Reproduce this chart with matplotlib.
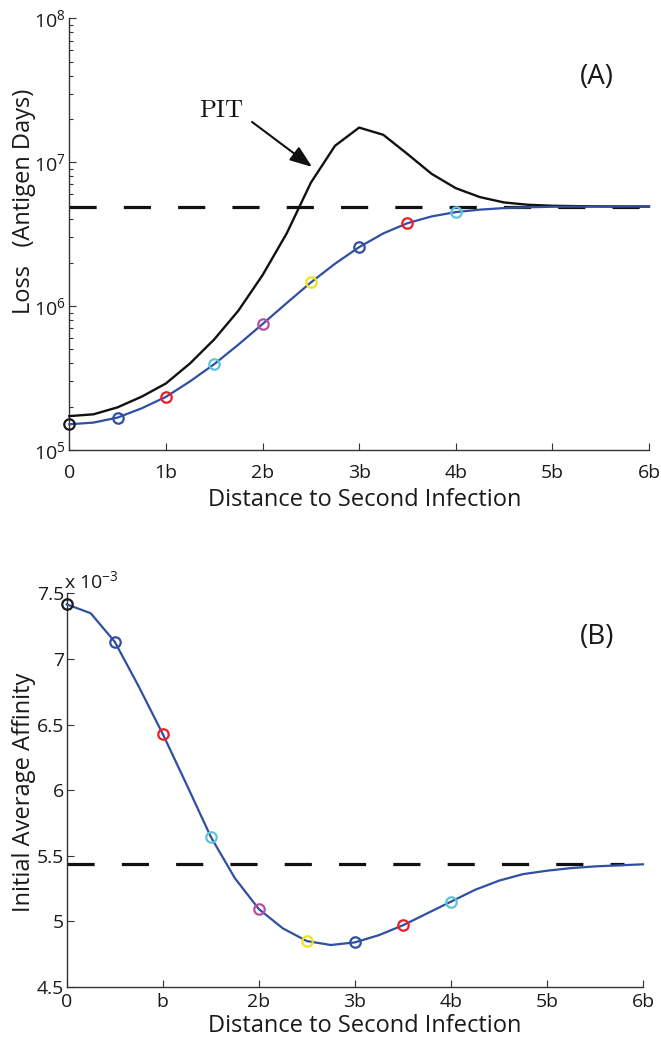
import numpy as np
import matplotlib
matplotlib.use("Agg")
import matplotlib.pyplot as plt
from matplotlib.ticker import LogLocator, NullFormatter

plt.rcParams['font.family'] = ['Open Sans', 'DejaVu Sans']
plt.rcParams['mathtext.fontset'] = 'custom'
plt.rcParams['mathtext.rm'] = 'Open Sans'
plt.rcParams['mathtext.it'] = 'Open Sans'

# ---------------- data ----------------
x_grid = [0, 0.25, 0.5, 0.75, 1, 1.25, 1.5, 1.75, 2, 2.25, 2.5, 2.75, 3,
          3.25, 3.5, 3.75, 4, 4.25, 4.5, 4.75, 5, 5.25, 5.5, 5.75, 6]

loss_blue = [1.51e5, 1.55e5, 1.68e5, 1.95e5, 2.34e5, 3.0e5, 3.95e5, 5.4e5,
             7.5e5, 1.05e6, 1.46e6, 1.97e6, 2.57e6, 3.2e6, 3.77e6, 4.2e6,
             4.5e6, 4.68e6, 4.8e6, 4.86e6, 4.9e6, 4.91e6, 4.92e6, 4.92e6, 4.92e6]

loss_pit = [1.72e5, 1.77e5, 1.98e5, 2.35e5, 2.9e5, 4.0e5, 5.87e5, 9.3e5,
            1.64e6, 3.2e6, 7.2e6, 1.3e7, 1.74e7, 1.55e7, 1.14e7, 8.3e6,
            6.6e6, 5.72e6, 5.25e6, 5.06e6, 4.98e6, 4.95e6, 4.93e6, 4.92e6, 4.92e6]

loss_ref = 4.92e6

affinity = [7.416, 7.348, 7.131, 6.79, 6.428, 6.04, 5.645, 5.33, 5.094,
            4.947, 4.85, 4.82, 4.84, 4.895, 4.97, 5.06, 5.15, 5.24, 5.31,
            5.36, 5.386, 5.406, 5.419, 5.427, 5.435]
affinity_ref = 5.437

marker_x = [0, 0.5, 1, 1.5, 2, 2.5, 3, 3.5, 4]
marker_colors = ['#1a1a1a', '#2f4fa2', '#ee1c24', '#5bc4d8', '#b84ea6',
                 '#ece419', '#2f4fa2', '#ee1c24', '#5bc4d8']

x_ticks = [0, 1, 2, 3, 4, 5, 6]
x_labels_top = ['0', '1b', '2b', '3b', '4b', '5b', '6b']
x_labels_bot = ['0', 'b', '2b', '3b', '4b', '5b', '6b']
aff_ticks = [4.5, 5, 5.5, 6, 6.5, 7, 7.5]
aff_labels = ['4.5', '5', '5.5', '6', '6.5', '7', '7.5']

# ---------------- figure ----------------
W, H = 661, 1044
fig = plt.figure(figsize=(W / 100, H / 100), dpi=100)

blue = '#2f4fa2'
spine_col = '#333333'
txt_col = '#1a1a1a'
LABEL_FS = 17
TICK_FS = 14

def px_axes(l, r, t, b):
    return fig.add_axes([l / W, 1 - b / H, (r - l) / W, (b - t) / H])

def style(ax):
    for s in ['top', 'right']:
        ax.spines[s].set_visible(False)
    for s in ['left', 'bottom']:
        ax.spines[s].set_color(spine_col)
        ax.spines[s].set_linewidth(1.0)
    ax.tick_params(which='both', direction='in', colors=spine_col,
                   labelcolor=txt_col, labelsize=TICK_FS, width=0.8)
    ax.tick_params(which='major', length=5)
    ax.tick_params(which='minor', length=3)
    ax.set_facecolor('none')

# ---- panel A ----
axA = px_axes(69.3, 649, 18.3, 450)
style(axA)
axA.set_yscale('log')
axA.set_xlim(0, 6)
axA.set_ylim(1e5, 1e8)
axA.yaxis.set_major_locator(LogLocator(base=10, numticks=10))
axA.yaxis.set_minor_locator(LogLocator(base=10, subs=np.arange(2, 10), numticks=10))
axA.yaxis.set_minor_formatter(NullFormatter())
axA.set_xticks(x_ticks)
axA.set_xticklabels(x_labels_top)
axA.tick_params(axis='x', pad=10)
axA.tick_params(axis='y', pad=3)

dl = axA.axhline(loss_ref, color='#111111', lw=2.3, zorder=2)
dl.set_dashes((8.5, 8.5))
axA.plot(x_grid, loss_pit, color='#111111', lw=1.7, zorder=3, clip_on=False)
axA.plot(x_grid, loss_blue, color=blue, lw=1.6, zorder=4, clip_on=False)
lb = dict(zip(x_grid, loss_blue))
for xm, c in zip(marker_x, marker_colors):
    axA.plot([xm], [lb[xm]], 'o', mfc='none', mec=c, ms=7.5, mew=1.6,
             zorder=5, clip_on=False)

def px2data(px, py):
    return ((px - 69.3) / 96.6, 10 ** (7 - (py - 162.3) / 144))

axA.text(*px2data(243, 117), 'PIT', fontsize=18, fontfamily='cmr10',
         ha='right', va='baseline', color='#111111')
axA.annotate('', xy=px2data(312, 167), xytext=px2data(252, 122),
             arrowprops=dict(arrowstyle='-|>,head_length=0.75,head_width=0.28',
                             color='#111111', lw=1.5, shrinkA=0, shrinkB=0,
                             mutation_scale=18))
fig.text(597 / W, 1 - 77 / H, '(A)', fontsize=20, ha='center', va='center',
         color=txt_col)
fig.text(24 / W, 1 - 201 / H, 'Loss   (Antigen Days)', fontsize=LABEL_FS,
         rotation=90, ha='center', va='center', color=txt_col)
fig.text(365 / W, 1 - 500 / H, 'Distance to Second Infection',
         fontsize=LABEL_FS, ha='center', va='center', color=txt_col)

# ---- panel B ----
axB = px_axes(66.7, 643, 593.3, 987)
style(axB)
axB.set_xlim(0, 6)
axB.set_ylim(4.5, 7.5)
axB.set_xticks(x_ticks)
axB.set_xticklabels(x_labels_bot)
axB.set_yticks(aff_ticks)
axB.set_yticklabels(aff_labels)
axB.tick_params(axis='x', pad=4)
axB.tick_params(axis='y', pad=2)

dl2 = axB.plot([0, 5.8], [affinity_ref, affinity_ref], color='#111111',
               lw=2.3, zorder=2)[0]
dl2.set_dashes((8.5, 8.5))
axB.plot(x_grid, affinity, color=blue, lw=1.6, zorder=4, clip_on=False)
af = dict(zip(x_grid, affinity))
for xm, c in zip(marker_x, marker_colors):
    axB.plot([xm], [af[xm]], 'o', mfc='none', mec=c, ms=7.5, mew=1.6,
             zorder=5, clip_on=False)

fig.text(597 / W, 1 - 637 / H, '(B)', fontsize=20, ha='center', va='center',
         color=txt_col)
fig.text(64 / W, 1 - 581 / H, r'x 10$^{-3}$', fontsize=14, ha='left',
         va='center', color=txt_col)
fig.text(24 / W, 1 - 792 / H, 'Initial Average Affinity', fontsize=LABEL_FS,
         rotation=90, ha='center', va='center', color=txt_col)
fig.text(365 / W, 1 - 1026 / H, 'Distance to Second Infection',
         fontsize=LABEL_FS, ha='center', va='center', color=txt_col)

fig.savefig('out.png', dpi=100)
